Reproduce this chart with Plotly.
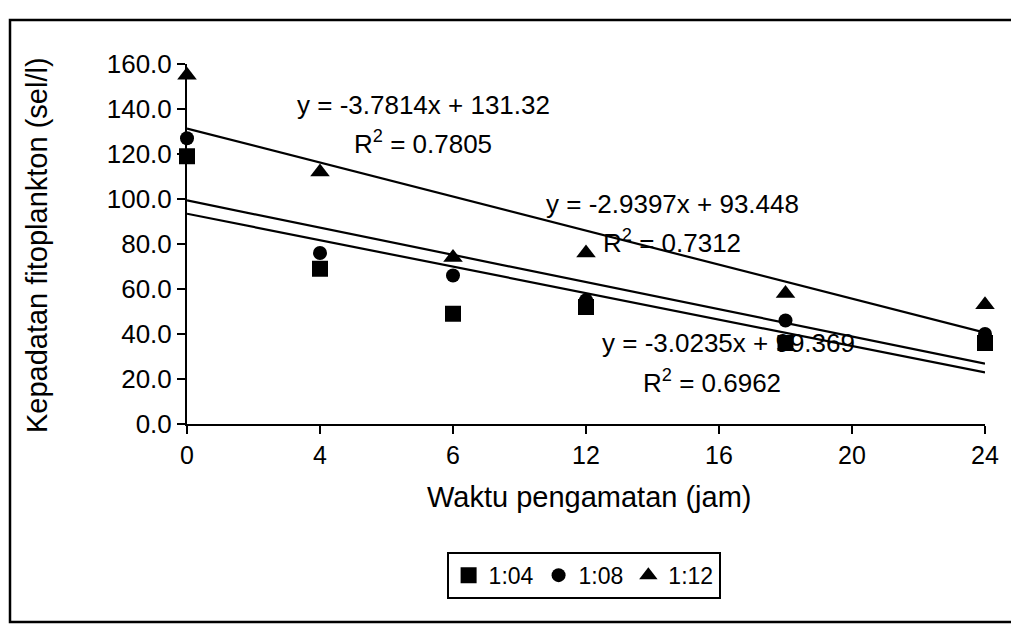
import plotly.graph_objects as go

# Data
waktu = [0, 4, 8, 12, 18, 24]
tick_vals = [0, 4, 8, 12, 16, 20, 24]
tick_text = ["0", "4", "6", "12", "16", "20", "24"]

s_104 = [119, 69, 49, 52, 36, 36]
s_108 = [127, 76, 66, 55, 46, 40]
s_112 = [155, 112, 74, 76, 58, 53]

series_names = ["1:04", "1:08", "1:12"]
series_vals = [s_104, s_108, s_112]
series_symbols = ["square", "circle", "triangle-up"]
series_sizes = [16, 14, 17]

# Trendline equations shown on the chart
slopes = [-2.9397, -3.0235, -3.7814]
intercepts = [93.448, 99.369, 131.32]
r2 = [0.7312, 0.6962, 0.7805]

font_family = "Liberation Sans, Arial, sans-serif"

fig = go.Figure()

for name, vals, sym, sz in zip(series_names, series_vals, series_symbols, series_sizes):
    fig.add_trace(go.Scatter(
        x=waktu, y=vals, mode="markers", name=name,
        marker=dict(symbol=sym, size=sz, color="black"),
        cliponaxis=False,
    ))

x_line = [0, 24]
for m, b in zip(slopes, intercepts):
    fig.add_trace(go.Scatter(
        x=x_line, y=[m * xv + b for xv in x_line], mode="lines",
        line=dict(color="black", width=2.2), showlegend=False, hoverinfo="skip",
    ))

def eq_text(m, b):
    return f"y = {m}x + {b}"

# annotation placement: (x, y) for equation and R2 lines
ann_pos = [
    ((14.6, 98), (14.6, 81)),    # 1:04
    ((16.3, 36), (15.8, 19)),    # 1:08
    ((7.1, 142), (7.1, 125)),    # 1:12
]
annotations = []
for (m, b, r), (p_eq, p_r2) in zip(zip(slopes, intercepts, r2), ann_pos):
    annotations.append(dict(x=p_eq[0], y=p_eq[1], text=eq_text(m, b), showarrow=False,
                            xanchor="center", yanchor="middle",
                            font=dict(size=26, color="black", family=font_family)))
    annotations.append(dict(x=p_r2[0], y=p_r2[1], text=f"R<sup>2</sup> = {r}", showarrow=False,
                            xanchor="center", yanchor="middle",
                            font=dict(size=26, color="black", family=font_family)))

# axis titles as paper annotations
annotations.append(dict(xref="paper", yref="paper", x=0.505, y=-0.203,
                        xanchor="center", yanchor="middle",
                        text="Waktu pengamatan (jam)", showarrow=False,
                        font=dict(size=29, color="black", family=font_family)))
annotations.append(dict(xref="paper", yref="paper", x=-0.188, y=0.497, textangle=-90,
                        xanchor="center", yanchor="middle",
                        text="Kepadatan fitoplankton (sel/l)", showarrow=False,
                        font=dict(size=29, color="black", family=font_family)))

fig.update_layout(
    width=1011, height=623,
    margin=dict(l=179, r=34, t=56, b=207),
    paper_bgcolor="white", plot_bgcolor="white",
    font=dict(family=font_family, size=24, color="black"),
    annotations=annotations,
    legend=dict(orientation="h", x=0.497, xanchor="center", y=-0.42, yanchor="middle",
                bordercolor="black", borderwidth=2, font=dict(size=23),
                itemwidth=30, tracegroupgap=0),
    xaxis=dict(range=[0, 24], tickvals=tick_vals, ticktext=tick_text,
               showline=True, linecolor="black", linewidth=2, ticks="outside",
               ticklen=8, tickcolor="black", tickwidth=2, showgrid=False, zeroline=False,
               tickfont=dict(size=25), automargin=False),
    yaxis=dict(range=[0, 160], dtick=20, tickformat=".1f",
               showline=True, linecolor="black", linewidth=2, ticks="outside",
               ticklen=8, tickcolor="black", tickwidth=2, showgrid=False, zeroline=False,
               tickfont=dict(size=26), automargin=False),
    shapes=[dict(type="rect", xref="paper", yref="paper",
                 x0=-0.2218, x1=1.0363, y0=-0.55, y1=1.1222,
                 line=dict(color="black", width=2.5))],
)

fig.write_html("out.html")
